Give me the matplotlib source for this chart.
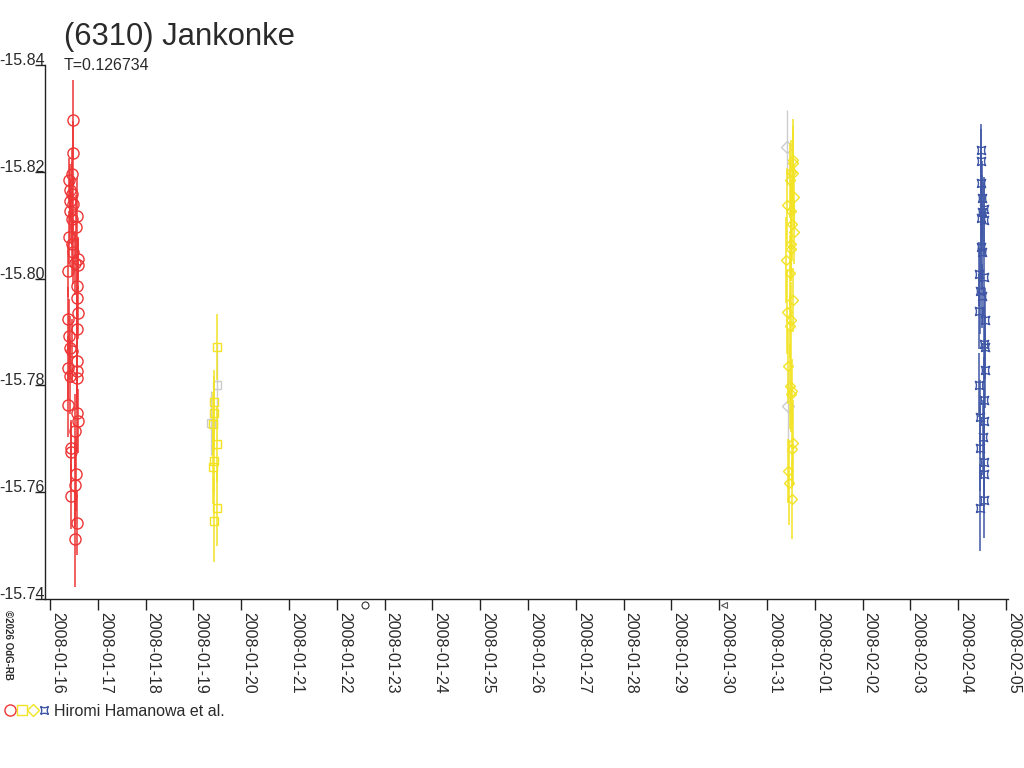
import numpy as np
import matplotlib
matplotlib.use("Agg")
import matplotlib.pyplot as plt
import matplotlib.dates as mdates
from matplotlib.path import Path
from matplotlib.lines import Line2D

plt.rcParams['font.family'] = ['Liberation Sans', 'DejaVu Sans']

title = "(6310) Jankonke"
subtitle = "T=0.126734"
credit = "Hiromi Hamanowa et al."
copyright_txt = "\u00a92026 OdG-RB"

# ---- data: fractional day offsets from each session date, magnitude, error ----
s1_date = "2008-01-16"
s1_t = [0.475, 0.487, 0.454, 0.397, 0.418, 0.454, 0.418, 0.487, 0.418, 0.559,
        0.454, 0.544, 0.404, 0.454, 0.487, 0.592, 0.523, 0.592, 0.383, 0.559,
        0.559, 0.592, 0.383, 0.559, 0.404, 0.418, 0.454, 0.559, 0.383, 0.418,
        0.559, 0.559, 0.383, 0.559, 0.579, 0.523, 0.433, 0.433, 0.544, 0.523,
        0.433, 0.571, 0.523]
s1_mag = [-15.8297, -15.8236, -15.8195, -15.8185, -15.8165, -15.8159, -15.8146, -15.8140, -15.8127, -15.8118,
          -15.8112, -15.8097, -15.8077, -15.8065, -15.8049, -15.8037, -15.8030, -15.8026, -15.8015, -15.7986,
          -15.7964, -15.7936, -15.7924, -15.7905, -15.7892, -15.7870, -15.7865, -15.7845, -15.7833, -15.7817,
          -15.7827, -15.7814, -15.7764, -15.7748, -15.7733, -15.7714, -15.7682, -15.7676, -15.7635, -15.7614,
          -15.7592, -15.7543, -15.7513]
s1_err = [0.0075, 0.006, 0.005, 0.004, 0.005, 0.006, 0.004, 0.005, 0.006, 0.007,
          0.005, 0.006, 0.005, 0.006, 0.006, 0.004, 0.006, 0.005, 0.005, 0.006,
          0.007, 0.005, 0.006, 0.006, 0.007, 0.006, 0.006, 0.008, 0.006, 0.007,
          0.007, 0.006, 0.006, 0.007, 0.006, 0.007, 0.005, 0.006, 0.007, 0.008,
          0.006, 0.006, 0.009]

s2_date = "2008-01-19"
s2_t = [0.494, 0.425, 0.425, 0.404, 0.494, 0.425, 0.416, 0.494, 0.425]
s2_mag = [-15.7872, -15.7768, -15.7748, -15.7728, -15.7690, -15.7659, -15.7647, -15.7570, -15.7547]
s2_err = [0.0062, 0.006, 0.007, 0.006, 0.007, 0.006, 0.007, 0.007, 0.0077]

s3_date = "2008-01-31"
s3_t = [0.544, 0.544, 0.496, 0.544, 0.481, 0.565, 0.418, 0.496, 0.523, 0.565,
        0.496, 0.496, 0.397, 0.481, 0.544, 0.412, 0.496, 0.481, 0.446, 0.481,
        0.517, 0.496, 0.544, 0.517, 0.446, 0.467, 0.517]
s3_mag = [-15.8223, -15.8216, -15.8199, -15.8197, -15.8184, -15.8152, -15.8137, -15.8127, -15.8103, -15.8087,
          -15.8065, -15.8056, -15.8035, -15.8011, -15.7960, -15.7938, -15.7923, -15.7911, -15.7836, -15.7798,
          -15.7789, -15.7783, -15.7692, -15.7680, -15.7639, -15.7618, -15.7588]
s3_err = [0.0075, 0.007, 0.006, 0.008, 0.007, 0.006, 0.007, 0.006, 0.007, 0.006,
          0.007, 0.006, 0.008, 0.007, 0.006, 0.008, 0.007, 0.006, 0.007, 0.008,
          0.006, 0.007, 0.008, 0.007, 0.006, 0.008, 0.0075]

s4_date = "2008-02-04"
s4_t = [0.475, 0.481, 0.475, 0.496, 0.529, 0.496, 0.481, 0.529, 0.475, 0.496,
        0.425, 0.544, 0.446, 0.496, 0.439, 0.550, 0.544, 0.550, 0.550, 0.439,
        0.529, 0.460, 0.529, 0.517, 0.446, 0.529, 0.529, 0.529, 0.446]
s4_mag = [-15.8240, -15.8220, -15.8179, -15.8151, -15.8131, -15.8124, -15.8114, -15.8110, -15.8060, -15.8049,
          -15.8008, -15.8003, -15.7977, -15.7968, -15.7939, -15.7922, -15.7877, -15.7872, -15.7828, -15.7800,
          -15.7773, -15.7741, -15.7734, -15.7703, -15.7682, -15.7657, -15.7634, -15.7585, -15.7571]
s4_err = [0.0050, 0.006, 0.006, 0.007, 0.006, 0.007, 0.006, 0.007, 0.006, 0.007,
          0.006, 0.007, 0.008, 0.006, 0.007, 0.006, 0.007, 0.006, 0.007, 0.006,
          0.008, 0.007, 0.006, 0.007, 0.008, 0.007, 0.006, 0.007, 0.0082]

# rejected (grey) observations: session date, offset, mag, err, marker
grey_date = ["2008-01-19", "2008-01-19", "2008-01-31", "2008-01-31"]
grey_t = [0.37, 0.49, 0.412, 0.440]
grey_mag = [-15.7729, -15.7800, -15.8246, -15.7761]
grey_err = [0.006, 0.008, 0.007, 0.007]
grey_mk = ["s", "s", "D", "D"]

# out-of-range points drawn below the axis
out_dates = ["2008-01-22 14:10", "2008-01-30 02:30"]

xtick_labels = ["2008-01-%02d" % d for d in range(16, 32)] + ["2008-02-%02d" % d for d in range(1, 6)]
yticks = [-15.84, -15.82, -15.80, -15.78, -15.76, -15.74]

RED = "#ee3535"
YEL = "#f2e324"
BLUE = "#3f57a6"
GREY = "#cccccc"
TXT = "#2a2a2a"

# currency-sign style marker
cur_verts = [(-1, -1), (0, -0.45), (1, -1), (0.45, 0), (1, 1), (0, 0.45), (-1, 1), (-0.45, 0), (-1, -1)]
cur_codes = [Path.MOVETO] + [Path.CURVE3] * 8
CUR = Path(cur_verts, cur_codes)

fig = plt.figure(figsize=(10.24, 7.68), dpi=100)
ax = fig.add_axes([45 / 1024, 1 - 599 / 768, (1008 - 45) / 1024, (599 - 65) / 768])


def dnum(base, offs):
    return mdates.date2num(np.datetime64(base)) + np.asarray(offs)


def series(base, t, m, e, color, marker, ms, mew=1.0):
    x = dnum(base, t)
    ax.errorbar(x, m, yerr=e, fmt='none', ecolor=color, elinewidth=1.1, capsize=0, zorder=2)
    ax.plot(x, m, linestyle='none', marker=marker, ms=ms, mfc='none', mec=color, mew=mew, zorder=3)


for d, t, m, e, mk in zip(grey_date, grey_t, grey_mag, grey_err, grey_mk):
    x = dnum(d, [t])
    ax.errorbar(x, [m], yerr=[e], fmt='none', ecolor=GREY, elinewidth=1.0, capsize=0, zorder=1)
    ax.plot(x, [m], linestyle='none', marker=mk, ms=6, mfc='none', mec=GREY, mew=1.0, zorder=1)

series(s1_date, s1_t, s1_mag, s1_err, RED, 'o', 8)
series(s2_date, s2_t, s2_mag, s2_err, YEL, 's', 5.8)
series(s3_date, s3_t, s3_mag, s3_err, YEL, 'D', 5.5)
series(s4_date, s4_t, s4_mag, s4_err, BLUE, CUR, 6)

# out-of-range markers just below the x-axis
ox = [mdates.date2num(np.datetime64(d.replace(" ", "T"))) for d in out_dates]
ax.plot(ox[:1], [-0.012], transform=ax.get_xaxis_transform(), linestyle='none', marker='o', ms=5,
        mfc='none', mec='#333333', mew=0.8, clip_on=False)
ax.plot(ox[1:], [-0.012], transform=ax.get_xaxis_transform(), linestyle='none', marker='<', ms=4,
        mfc='none', mec='#555555', mew=0.8, clip_on=False)

base0 = mdates.date2num(np.datetime64("2008-01-16"))
ax.set_xlim(base0 - 0.105, base0 + 20.04)
ax.set_ylim(-15.74, -15.84)

xt = [mdates.date2num(np.datetime64(s)) for s in xtick_labels]
ax.set_xticks(xt)
ax.set_xticklabels(xtick_labels)
ax.set_yticks(yticks)
ax.set_yticklabels(["%.2f" % v for v in yticks])

for s in ['top', 'right']:
    ax.spines[s].set_visible(False)
for s in ['left', 'bottom']:
    ax.spines[s].set_color('#222222')
    ax.spines[s].set_linewidth(1.0)

ax.tick_params(axis='x', direction='out', length=8, width=1, color='#222222',
               labelsize=11.5, labelcolor=TXT, pad=1.5)
ax.tick_params(axis='y', direction='out', length=7.5, width=1, color='#222222',
               labelsize=11.5, labelcolor=TXT, pad=-7.5)
for lab in ax.get_xticklabels():
    lab.set_rotation(-90)
    lab.set_rotation_mode('anchor')
    lab.set_ha('left')
    lab.set_va('bottom')
for lab in ax.get_yticklabels():
    lab.set_va('baseline')
    lab.set_ha('right')

fig.text(64 / 1024, 1 - 45 / 768, title, fontsize=22.3, color=TXT, va='baseline', ha='left')
fig.text(64 / 1024, 1 - 70 / 768, subtitle, fontsize=11.5, color=TXT, va='baseline', ha='left')
fig.text(3 / 1024, 1 - 610 / 768, copyright_txt, fontsize=7, fontweight='bold', color=TXT,
         rotation=-90, ha='left', va='top')

# legend row
leg_y = 1 - 710 / 768
for xpx, mk, col, ms in [(10, 'o', RED, 8), (22, 's', YEL, 6.5), (33, 'D', YEL, 6.5), (44, CUR, BLUE, 5.5)]:
    fig.add_artist(Line2D([xpx / 1024], [leg_y], transform=fig.transFigure, linestyle='none', marker=mk,
                          ms=ms, mfc='none', mec=col, mew=1.0))
fig.text(54 / 1024, 1 - 716 / 768, credit, fontsize=11.5, color=TXT, va='baseline', ha='left')

fig.savefig("out.png", dpi=100, facecolor='white')
